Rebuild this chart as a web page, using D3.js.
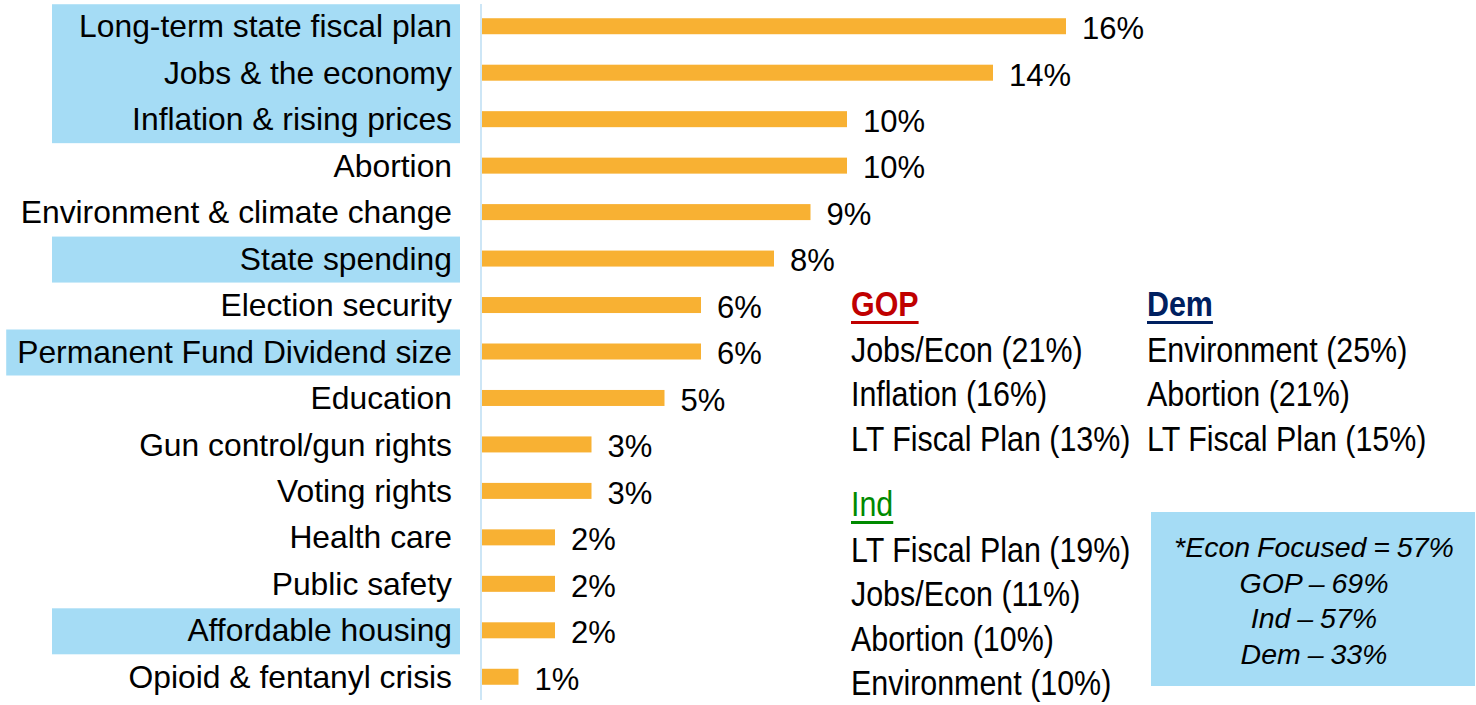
<!DOCTYPE html>
<html>
<head>
<meta charset="utf-8">
<script src="https://cdn.jsdelivr.net/npm/d3@7"></script>
<style>
  body { margin: 0; background: #fff; }
  svg { display: block; }
</style>
</head>
<body>
<div class="visContainer"></div>
<script>
// Chart data.
const issues = [
    'Long-term state fiscal plan', 'Jobs & the economy', 'Inflation & rising prices',
    'Abortion', 'Environment & climate change', 'State spending', 'Election security',
    'Permanent Fund Dividend size', 'Education', 'Gun control/gun rights', 'Voting rights',
    'Health care', 'Public safety', 'Affordable housing', 'Opioid & fentanyl crisis'
];
const shares = [16, 14, 10, 10, 9, 8, 6, 6, 5, 3, 3, 2, 2, 2, 1];

// Economy-focused issues, highlighted in blue.
const econGroups = [
    ['Long-term state fiscal plan', 'Jobs & the economy', 'Inflation & rising prices'],
    ['State spending'],
    ['Permanent Fund Dividend size'],
    ['Affordable housing']
];

// Party breakdowns.
const partyNames = ['GOP', 'Dem', 'Ind'];
const gopTop = ['Jobs/Econ (21%)', 'Inflation (16%)', 'LT Fiscal Plan (13%)'];
const demTop = ['Environment (25%)', 'Abortion (21%)', 'LT Fiscal Plan (15%)'];
const indTop = ['LT Fiscal Plan (19%)', 'Jobs/Econ (11%)', 'Abortion (10%)', 'Environment (10%)'];
const econNote = ['*Econ Focused = 57%', 'GOP – 69%', 'Ind – 57%', 'Dem – 33%'];

function issueChart() {
    // SVG constants.
    const width = 1476;
    const height = 705;
    const axisX = 481;
    const labelFont = '"Liberation Sans", Arial, sans-serif';
    // No narrow face installed, so squeeze the regular one.
    const squeeze = 0.845;

    const svg = d3.select('.visContainer')
                  .append('svg')
                  .attr('width', width)
                  .attr('height', height);

    // Scales.
    const x = d3.scaleLinear()
                .domain([0, 16])
                .range([axisX + 1, 1066]);

    const y = d3.scaleBand()
                .domain(issues)
                .range([3, 700]);

    const mid = (d) => y(d) + y.bandwidth() / 2;

    // Highlight boxes go behind the labels.
    const boxLayer = svg.append('g');

    // Category labels.
    const labels = svg.append('g')
                      .selectAll('text')
                      .data(issues)
                      .enter()
                      .append('text')
                      .attr('x', 452)
                      .attr('y', (d) => mid(d))
                      .attr('dy', '0.35em')
                      .attr('text-anchor', 'end')
                      .style('font-family', labelFont)
                      .style('font-size', '31.8px')
                      .style('fill', '#000')
                      .text((d) => d);

    const textLeft = {};
    labels.each(function (d) {
        textLeft[d] = this.getBBox().x;
    });

    const boxLeft = (g) => Math.min(52, d3.min(g, (d) => textLeft[d]) - 11);

    boxLayer.selectAll('rect')
            .data(econGroups)
            .enter()
            .append('rect')
            .attr('x', boxLeft)
            .attr('y', (g) => mid(g[0]) - 22)
            .attr('width', (g) => 460 - boxLeft(g))
            .attr('height', (g) => mid(g[g.length - 1]) - mid(g[0]) + 46)
            .attr('fill', '#a5dcf5');

    // Axis line.
    svg.append('line')
       .attr('x1', axisX)
       .attr('x2', axisX)
       .attr('y1', 4)
       .attr('y2', 700)
       .attr('stroke', '#cde6f6')
       .attr('stroke-width', 2);

    // Bars.
    svg.append('g')
       .selectAll('rect')
       .data(issues)
       .enter()
       .append('rect')
       .attr('x', x(0))
       .attr('y', (d) => mid(d) - 8)
       .attr('width', (d, i) => x(shares[i]) - x(0))
       .attr('height', 16)
       .attr('fill', '#f8b133');

    // Value labels.
    svg.append('g')
       .selectAll('text')
       .data(issues)
       .enter()
       .append('text')
       .attr('x', (d, i) => x(shares[i]) + 16)
       .attr('y', (d) => mid(d) + 2)
       .attr('dy', '0.35em')
       .style('font-family', labelFont)
       .style('font-size', '31px')
       .text((d, i) => shares[i] + '%');

    // Party columns.
    const columns = [
        { name: partyNames[0], lines: gopTop, x: 851, y: 316, color: '#c00000', bold: true },
        { name: partyNames[1], lines: demTop, x: 1147, y: 316, color: '#002060', bold: true },
        { name: partyNames[2], lines: indTop, x: 851, y: 516, color: '#008a00', bold: false }
    ];

    columns.forEach((c) => {
        const g = svg.append('g')
                     .attr('transform', 'translate(' + c.x + ',' + c.y + ') scale(' + squeeze + ',1)');
        const head = g.append('text')
                      .attr('x', 0)
                      .attr('y', 0)
                      .style('font-family', labelFont)
                      .style('font-size', '36px')
                      .style('font-weight', c.bold ? 'bold' : 'normal')
                      .style('fill', c.color)
                      .text(c.name);
        const w = head.node().getComputedTextLength();
        g.append('rect')
         .attr('x', 0)
         .attr('y', 5)
         .attr('width', w)
         .attr('height', 3)
         .attr('fill', c.color);

        g.selectAll('text.line')
         .data(c.lines)
         .enter()
         .append('text')
         .attr('class', 'line')
         .attr('x', 0)
         .attr('y', (d, i) => 46 + i * 44.5)
         .style('font-family', labelFont)
         .style('font-size', '36px')
         .style('fill', '#000')
         .text((d) => d);
    });

    // Econ-focused note box.
    svg.append('rect')
       .attr('x', 1151)
       .attr('y', 512)
       .attr('width', 324)
       .attr('height', 174)
       .attr('fill', '#a5dcf5');

    svg.append('g')
       .selectAll('text')
       .data(econNote)
       .enter()
       .append('text')
       .attr('x', 1314)
       .attr('y', (d, i) => 557 + i * 35.7)
       .attr('text-anchor', 'middle')
       .style('font-family', labelFont)
       .style('font-size', '28.5px')
       .style('font-style', 'italic')
       .style('word-spacing', '-1px')
       .text((d) => d);
}

issueChart();
</script>
</body>
</html>
